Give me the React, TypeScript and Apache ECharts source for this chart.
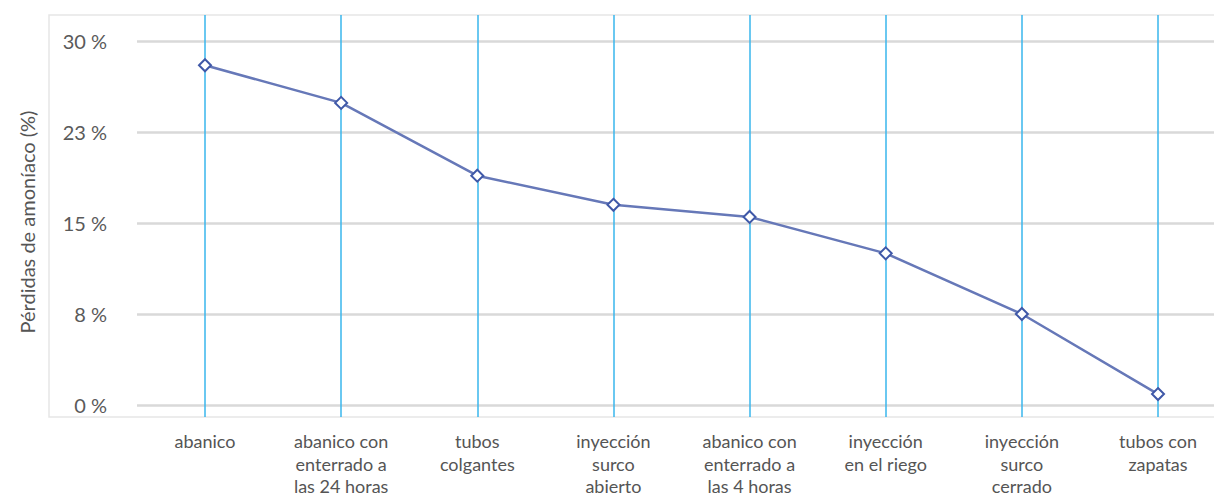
import React, { useEffect, useRef } from "react";
import * as echarts from "echarts";

const categories = [
  "abanico",
  "abanico con\nenterrado a\nlas 24 horas",
  "tubos\ncolgantes",
  "inyección\nsurco\nabierto",
  "abanico con\nenterrado a\nlas 4 horas",
  "inyección\nen el riego",
  "inyección\nsurco\ncerrado",
  "tubos con\nzapatas",
];
const losses = [28.0, 24.9, 18.9, 16.5, 15.5, 12.5, 7.5, 0.9];
const yMin = 0;
const yMax = 30;
const yInterval = 7.5;
const yAxisTitle = "Pérdidas de amoníaco (%)";

const FONT = "Lato, 'Open Sans', sans-serif";
const TEXT = "#555555";

export default function App() {
  const ref = useRef<HTMLDivElement>(null);
  useEffect(() => {
    document.body.style.margin = "0";
    const chart = echarts.init(ref.current!, null, { renderer: "svg" });
    chart.setOption({
      animation: false,
      backgroundColor: "#ffffff",
      grid: [
        { left: 137, right: 0, top: 41, bottom: 94, outerBoundsMode: "none", containLabel: false },
        { left: 205, right: 56, top: 15, bottom: 82, outerBoundsMode: "none", containLabel: false },
        { left: 205, right: 56, top: 41, bottom: 94, outerBoundsMode: "none", containLabel: false },
      ],
      graphic: [
        {
          type: "rect",
          shape: { x: 49, y: 15, width: 1170, height: 402 },
          style: { fill: "none", stroke: "#e6e6e6", lineWidth: 1.5 },
          z: -1,
        },
        {
          type: "text",
          x: 27,
          y: 222,
          rotation: Math.PI / 2,
          style: {
            text: yAxisTitle,
            font: `20px ${FONT}`,
            fill: TEXT,
            align: "center",
            verticalAlign: "middle",
          },
        },
      ],
      xAxis: [
        { gridIndex: 0, type: "value", show: false, min: 0, max: 1 },
        {
          gridIndex: 1,
          type: "category",
          data: categories,
          boundaryGap: false,
          axisLine: { show: false },
          axisTick: { show: false },
          axisLabel: { show: false },
          splitLine: { show: true, lineStyle: { color: "#38b6ec", width: 1.5 } },
        },
        {
          gridIndex: 2,
          type: "category",
          data: categories,
          boundaryGap: false,
          axisLine: { show: false },
          axisTick: { show: false },
          splitLine: { show: false },
          axisLabel: {
            margin: 25,
            color: TEXT,
            fontSize: 18,
            fontFamily: FONT,
            lineHeight: 22.5,
            interval: 0,
            align: "center",
            verticalAlign: "top",
          },
        },
      ],
      yAxis: [
        {
          gridIndex: 0,
          type: "value",
          min: yMin,
          max: yMax,
          interval: yInterval,
          axisLine: { show: false },
          axisTick: { show: false },
          splitLine: { show: true, lineStyle: { color: "#d9d9d9", width: 2.5 } },
          axisLabel: {
            margin: 30,
            color: "#5a5a5a",
            fontSize: 20,
            fontFamily: FONT,
            formatter: (v: number) => `${Math.round(v)} %`,
          },
        },
        { gridIndex: 1, type: "value", show: false, min: 0, max: 1 },
        { gridIndex: 2, type: "value", show: false, min: yMin, max: yMax },
      ],
      series: [
        {
          type: "line",
          xAxisIndex: 2,
          yAxisIndex: 2,
          data: losses,
          symbol: "emptyDiamond",
          symbolSize: 12,
          lineStyle: { color: "#6678b8", width: 2.5 },
          itemStyle: { color: "#3f58a8", borderWidth: 2.5 },
          z: 5,
        },
      ],
    });
    return () => chart.dispose();
  }, []);
  return <div ref={ref} style={{ width: 1214, height: 499 }} />;
}
